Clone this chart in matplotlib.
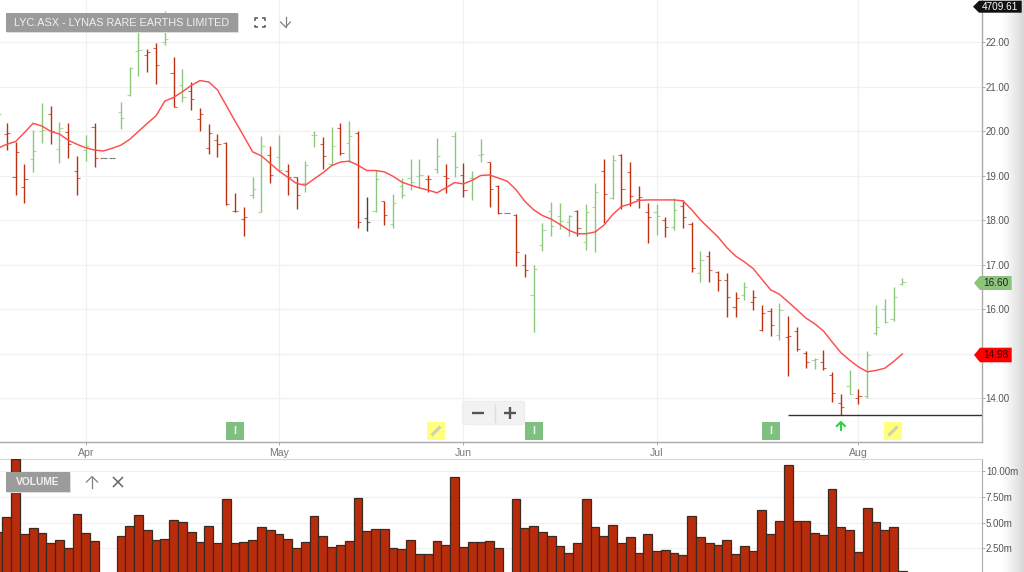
import numpy as np
import matplotlib
matplotlib.use("Agg")
import matplotlib.pyplot as plt
from matplotlib.patches import Rectangle, Polygon, FancyBboxPatch

plt.rcParams['font.family'] = ['Liberation Sans', 'DejaVu Sans']

TITLE = "LYC.ASX - LYNAS RARE EARTHS LIMITED"
MONTH_LABELS = ["Apr", "May", "Jun", "Jul", "Aug"]
MONTH_BARS = [10, 32, 53, 75, 98]
PRICE_TICKS = [22, 21, 20, 19, 18, 17, 16, 15, 14]
PRICE_LABELLED = [22, 21, 20, 19, 18, 17, 16, 14]
VOLUME_TICKS = [10.0, 7.5, 5.0, 2.5]
LAST_PRICE = 16.60
MA_LAST = 14.98
INDEX_LAST = "4709.61"
SUPPORT_PRICE = 13.62
SUPPORT_START = 90

BAR_COLOURS = ("grrrggrgrr" "grkkgggrrg" "rgrrrrrrrg" "grgrrggrgr" "grkgrggggr"
               "grgrggrrkr" "rgggggrggr" "grrrrgrgrr" "grrrrgrrrg" "rrrgrrrgrg" "gggg")

HIGH = [20.55,20.19,19.75,19.27,20.04,20.63,20.58,20.20,20.18,19.44,
        19.92,20.18,19.41,19.41,20.66,21.44,22.39,21.86,21.98,22.71,
        21.66,21.41,21.10,20.52,20.16,19.93,19.77,18.62,18.29,18.97,
        19.90,19.67,19.92,19.27,18.98,19.33,20.01,19.88,20.10,20.19,
        20.24,20.00,18.53,19.14,18.44,18.60,18.95,19.39,19.37,19.02,
        19.84,19.27,19.98,19.29,19.11,19.82,19.32,18.80,18.16,18.15,
        17.25,16.99,17.94,18.42,18.39,18.13,18.24,18.36,18.83,19.37,
        19.48,19.49,19.31,18.78,18.38,18.36,18.07,18.50,18.46,17.97,
        17.31,17.32,16.86,16.82,16.39,16.62,16.43,16.09,16.04,16.14,
        15.86,15.60,15.07,14.90,15.08,14.59,14.10,14.63,14.21,15.07,
        16.11,16.23,16.51,16.71]
LOW = [19.95,19.59,18.58,18.39,19.09,19.74,19.71,19.29,19.40,18.57,
       19.34,19.20,19.41,19.41,20.05,20.80,21.25,21.34,21.06,21.94,
       20.55,20.67,20.47,20.00,19.49,19.43,18.35,18.19,17.66,18.50,
       18.18,18.83,19.09,18.56,18.25,18.64,19.65,19.15,19.24,19.48,
       19.32,17.83,17.76,18.18,17.89,17.82,18.50,18.69,18.73,18.63,
       19.06,18.62,18.98,18.53,18.45,19.31,18.30,18.15,18.16,16.97,
       16.72,15.49,17.31,17.64,17.81,17.64,17.64,17.33,17.30,17.94,
       18.47,18.26,18.32,18.28,17.49,17.67,17.62,17.78,17.82,16.84,
       16.62,16.62,16.42,15.82,15.83,16.21,15.99,15.51,15.40,15.32,
       14.51,15.07,14.69,14.66,14.64,13.93,13.64,14.09,13.88,14.00,
       15.42,15.70,15.75,16.54]
OPEN = [20.25,19.93,18.97,18.74,19.39,20.00,20.40,19.60,19.99,19.11,
        19.58,20.10,19.41,19.41,20.43,20.82,21.81,21.71,21.87,22.00,
        21.32,21.05,20.91,20.28,19.62,19.80,19.74,18.21,18.03,18.58,
        18.19,19.47,19.43,19.12,18.97,18.83,19.91,19.71,19.27,20.08,
        19.73,19.96,18.05,18.20,18.43,17.93,18.78,18.95,18.99,18.92,
        19.15,18.99,19.89,19.01,18.95,19.46,19.31,18.78,18.16,18.13,
        17.00,16.33,17.44,18.20,18.11,17.96,18.21,17.51,18.29,19.12,
        18.51,19.47,19.09,18.47,18.18,18.19,18.01,17.85,18.33,17.92,
        16.81,17.19,16.83,16.66,16.06,16.33,16.16,15.53,15.96,15.43,
        15.37,15.52,15.02,14.87,14.81,14.52,13.89,14.29,14.00,14.05,
        15.46,16.02,15.78,16.58]
CLOSE = [20.39,19.97,19.53,18.94,19.56,20.03,20.00,20.08,19.71,18.96,
         19.67,19.41,19.41,19.41,20.30,21.43,21.83,21.79,21.49,22.07,
         20.55,20.78,20.72,20.39,19.96,19.71,18.37,18.22,18.08,18.71,
         19.68,19.01,19.13,18.97,18.57,19.24,19.92,19.44,19.68,19.51,
         19.90,17.96,17.96,18.94,18.13,18.38,18.57,18.87,19.01,18.92,
         19.44,18.95,19.19,18.68,18.95,19.50,18.71,18.16,18.16,17.28,
         16.88,16.90,17.78,17.88,17.99,18.11,17.83,18.18,18.63,18.60,
         19.35,18.71,18.54,18.53,18.07,18.09,17.85,18.23,18.08,16.92,
         17.10,16.88,16.66,16.27,16.26,16.50,16.27,15.91,15.64,15.98,
         15.40,15.12,14.81,14.89,14.68,14.12,13.82,14.11,14.06,14.98,
         15.61,15.72,16.27,16.61]
MOVING_AVG = [19.62,19.71,19.77,19.97,20.18,20.12,20.00,19.94,19.80,19.71,
              19.63,19.58,19.56,19.62,19.69,19.82,20.00,20.18,20.35,20.68,
              20.76,20.89,21.03,21.14,21.11,20.93,20.58,20.23,19.89,19.54,
              19.45,19.28,19.11,18.97,18.83,18.79,18.93,19.07,19.23,19.31,
              19.33,19.24,19.12,19.12,19.09,18.99,18.86,18.79,18.73,18.68,
              18.62,18.73,18.85,18.82,18.90,19.01,19.02,18.95,18.88,18.69,
              18.43,18.24,18.11,18.03,17.91,17.78,17.70,17.70,17.74,17.89,
              18.13,18.31,18.37,18.45,18.46,18.46,18.46,18.46,18.44,18.24,
              18.01,17.82,17.63,17.39,17.20,17.07,16.92,16.68,16.44,16.34,
              16.17,15.99,15.81,15.68,15.52,15.27,15.03,14.86,14.71,14.60,
              14.63,14.68,14.83,15.00]
VOLUME = [4.09,5.58,11.17,3.93,4.45,4.03,3.05,3.34,2.53,5.84,4.03,3.25,0,0,
          3.67,4.64,5.75,4.29,3.31,3.41,5.23,5.06,4.12,3.15,4.71,3.05,7.27,3.05,
          3.15,3.31,4.55,4.29,3.93,3.38,2.53,3.15,5.68,3.67,2.60,2.86,3.21,7.44,
          4.19,4.35,4.35,2.53,2.44,3.31,1.92,1.92,3.21,2.86,9.42,2.60,3.12,3.12,
          3.21,2.53,0,
          7.34,4.45,4.64,4.09,3.67,2.69,2.08,3.05,7.34,4.55,3.67,4.81,2.99,3.57,
          2.08,3.93,2.27,2.37,2.08,1.82,5.68,3.57,2.99,2.79,3.31,1.92,2.69,2.27,
          6.20,3.93,5.16,10.58,5.16,5.16,3.99,3.83,8.31,4.55,4.29,2.18,6.46,5.06,
          4.29,4.55,0.26]
# events on the time axis: (bar index, kind)
EVENT_I_BARS = [27, 61, 88]
EVENT_NOTE_BARS = [50, 102]
EVENT_ARROW_BAR = 96

W, H = 1024, 572
RED, GREEN, DARK = "#bd3012", "#8dc77b", "#444444"
COL = {"r": RED, "g": GREEN, "k": DARK}
GRID = "#f1f1f1"
AXIS = "#aaaaaa"
TXT = "#555555"
BAR_PX = 8.78
X0_PX = -2.0
AX_R = 981.7

def box(t, b, l=0, r=AX_R):
    return [l / W, 1 - b / H, (r - l) / W, (b - t) / H]

fig = plt.figure(figsize=(W / 100, H / 100), dpi=100, facecolor="white")

# soft shade at the right edge of the page
bg = fig.add_axes([0, 0, 1, 1], zorder=0)
bg.set_xlim(0, W); bg.set_ylim(H, 0); bg.axis("off")
shade = np.linspace(0, 1, 24)[None, :] ** 1.3
bg.imshow(1 - 0.16 * shade, extent=(1000, 1024, H, 0), aspect="auto", cmap="gray", vmin=0, vmax=1)
bg.set_xlim(0, W); bg.set_ylim(H, 0)

xlim = ((0 - X0_PX) / BAR_PX, (AX_R - X0_PX) / BAR_PX)
x = np.arange(len(HIGH))

# ---------- price panel
ax = fig.add_axes(box(0, 442), zorder=1)
ax.patch.set_alpha(0)
ax.set_xlim(*xlim)
ax.set_ylim(13.023, 22.95)
for t in PRICE_TICKS:
    ax.axhline(t, color=GRID, lw=0.9, zorder=1)
for b in MONTH_BARS:
    ax.axvline(b, color=GRID, lw=0.9, zorder=1)
cols = [COL[c] for c in BAR_COLOURS]
ax.vlines(x, LOW, HIGH, colors=cols, lw=1.0, zorder=3)
ax.hlines(OPEN, x - 0.36, x, colors=cols, lw=0.8, alpha=0.7, zorder=3)
ax.hlines(CLOSE, x, x + 0.36, colors=cols, lw=0.8, alpha=0.7, zorder=3)
ax.plot(x, MOVING_AVG, color="#ff4d4d", lw=1.05, zorder=4, solid_joinstyle="round")
ax.hlines(SUPPORT_PRICE, SUPPORT_START, xlim[1], color="#333333", lw=1.0, zorder=4)
ax.set_xticks(MONTH_BARS)
ax.set_xticklabels(MONTH_LABELS, fontsize=7.6, color="#777777")
ax.tick_params(axis="x", length=2.4, width=0.7, color=AXIS, pad=2.2)
ax.yaxis.tick_right()
ax.set_yticks(PRICE_TICKS)
ax.set_yticklabels([f"{t:.2f}" if t in PRICE_LABELLED else "" for t in PRICE_TICKS],
                   fontsize=7.0, color=TXT)
ax.tick_params(axis="y", length=2.0, width=0.7, color=AXIS, pad=0.8)
for s in ("top", "left"):
    ax.spines[s].set_visible(False)
for s in ("right", "bottom"):
    ax.spines[s].set_color(AXIS)
    ax.spines[s].set_linewidth(1.0)

# ---------- volume panel
av = fig.add_axes(box(459.3, 572), zorder=1)
av.patch.set_alpha(0)
av.set_xlim(*xlim)
av.set_ylim(0.19, 11.17)
for t in VOLUME_TICKS:
    av.axhline(t, color=GRID, lw=0.9, zorder=1)
av.bar(x, VOLUME, width=1.0, color="#b92c0b", edgecolor="#3a2a22", linewidth=0.9, zorder=3)
av.set_xticks([])
av.yaxis.tick_right()
av.set_yticks(VOLUME_TICKS)
av.set_yticklabels([f"{t:.2f}m" for t in VOLUME_TICKS], fontsize=7.0, color=TXT)
av.tick_params(axis="y", length=2.0, width=0.7, color=AXIS, pad=1.0)
for s in ("left", "bottom"):
    av.spines[s].set_visible(False)
av.spines["right"].set_color(AXIS)
av.spines["top"].set_color("#d8d8d8")

# ---------- overlay furniture in page pixels
ov = fig.add_axes([0, 0, 1, 1], zorder=5)
ov.set_xlim(0, W); ov.set_ylim(H, 0); ov.axis("off"); ov.patch.set_alpha(0)

def bar_px(i):
    return X0_PX + BAR_PX * i

def rect(x0, y0, x1, y1, **k):
    ov.add_patch(Rectangle((x0, y0), x1 - x0, y1 - y0, **k))

def tag(x0, x1, y0, y1, fc, txt, tc, weight="normal"):
    ym = (y0 + y1) / 2
    ov.add_patch(Polygon([(x0, ym), (x0 + 6, y0), (x1, y0), (x1, y1), (x0 + 6, y1)],
                         closed=True, fc=fc, ec="none"))
    ov.text((x0 + 6 + x1) / 2, ym + 0.2, txt, color=tc, fontsize=7.2, weight=weight,
            ha="center", va="center")

# title
rect(6.6, 13.6, 238.6, 32.6, fc="#dddddd", ec="none")
rect(6, 13, 238, 32, fc="#9b9b9b", ec="none")
ov.text(122, 22.6, TITLE, color="#f0f0f0", fontsize=7.85, ha="center", va="center")
# fullscreen icon
ic = dict(color="#555555", lw=1.1, solid_capstyle="butt")
for sx, sy in [(-1, -1), (1, -1), (-1, 1), (1, 1)]:
    cx, cy = 259.5, 22.5
    ov.plot([cx + sx * 5, cx + sx * 5, cx + sx * 2], [cy + sy * 2, cy + sy * 4.5, cy + sy * 4.5], **ic)
# down arrow
arr = dict(color="#808080", lw=0.9)
ov.plot([285.5, 285.5], [17, 27], **arr)
ov.plot([280.5, 285.5, 290.5], [22, 27, 22], **arr)

# volume title
rect(6.6, 472.6, 70.6, 492.6, fc="#dddddd", ec="none")
rect(6, 472, 70, 492, fc="#9b9b9b", ec="none")
ov.text(38, 482.2, "VOLUME", color="#f0f0f0", fontsize=7.4, weight="bold", ha="center", va="center")
ov.plot([92, 92], [476.5, 487.5], **arr)
ov.plot([86.5, 92, 97.5], [482, 476.5, 482], **arr)
ov.plot([113.5, 122.5], [477.5, 486.5], color="#666666", lw=1.1)
ov.plot([113.5, 122.5], [486.5, 477.5], color="#666666", lw=1.1)

# zoom control
ov.add_patch(FancyBboxPatch((462.5, 401.5), 62, 23, boxstyle="round,pad=0,rounding_size=2.5",
                            fc="#f2f2f2", ec="#eeeeee", lw=1))
ov.plot([472, 484], [412.5, 412.5], color="#555555", lw=1.7, solid_capstyle="butt")
ov.plot([503.5, 515.5], [412.5, 412.5], color="#555555", lw=1.7, solid_capstyle="butt")
ov.plot([509.5, 509.5], [406.5, 418.5], color="#555555", lw=1.7, solid_capstyle="butt")
ov.plot([495, 495], [405, 422], color="#dddddd", lw=1)

# event markers
for b in EVENT_I_BARS:
    c = bar_px(b) + 0.5 if b != 27 else bar_px(b) + 0.0
    rect(c - 9, 422, c + 9, 440, fc="#7fbf7f", ec="none")
    ov.text(c, 431, "I", color="#eef7ee", fontsize=7.5, weight="bold", ha="center", va="center")
for b in EVENT_NOTE_BARS:
    c = bar_px(b) - 1.0 if b == 50 else bar_px(b) - 0.6
    rect(c - 9, 422, c + 9, 440, fc="#ffff80", ec="none")
    ov.plot([c - 4.5, c + 4.5], [435.5, 426.5], color="#d2d2a8", lw=2.3, solid_capstyle="butt")
ca = bar_px(EVENT_ARROW_BAR)
ov.plot([ca, ca], [422.5, 430], color="#2fd04a", lw=1.5)
ov.plot([ca - 4, ca, ca + 4], [426, 422, 426], color="#2fd04a", lw=1.5)

# price tags
tag(973, 1021.7, 0.7, 12.7, "#111111", INDEX_LAST, "white")
tag(974, 1011.7, 276, 290, "#8cc47c", f"{LAST_PRICE:.2f}", "#222222")
tag(974, 1011.7, 347.7, 362.3, "#ff0000", f"{MA_LAST:.2f}", "#3a0000")

fig.savefig("out.png", dpi=100)
